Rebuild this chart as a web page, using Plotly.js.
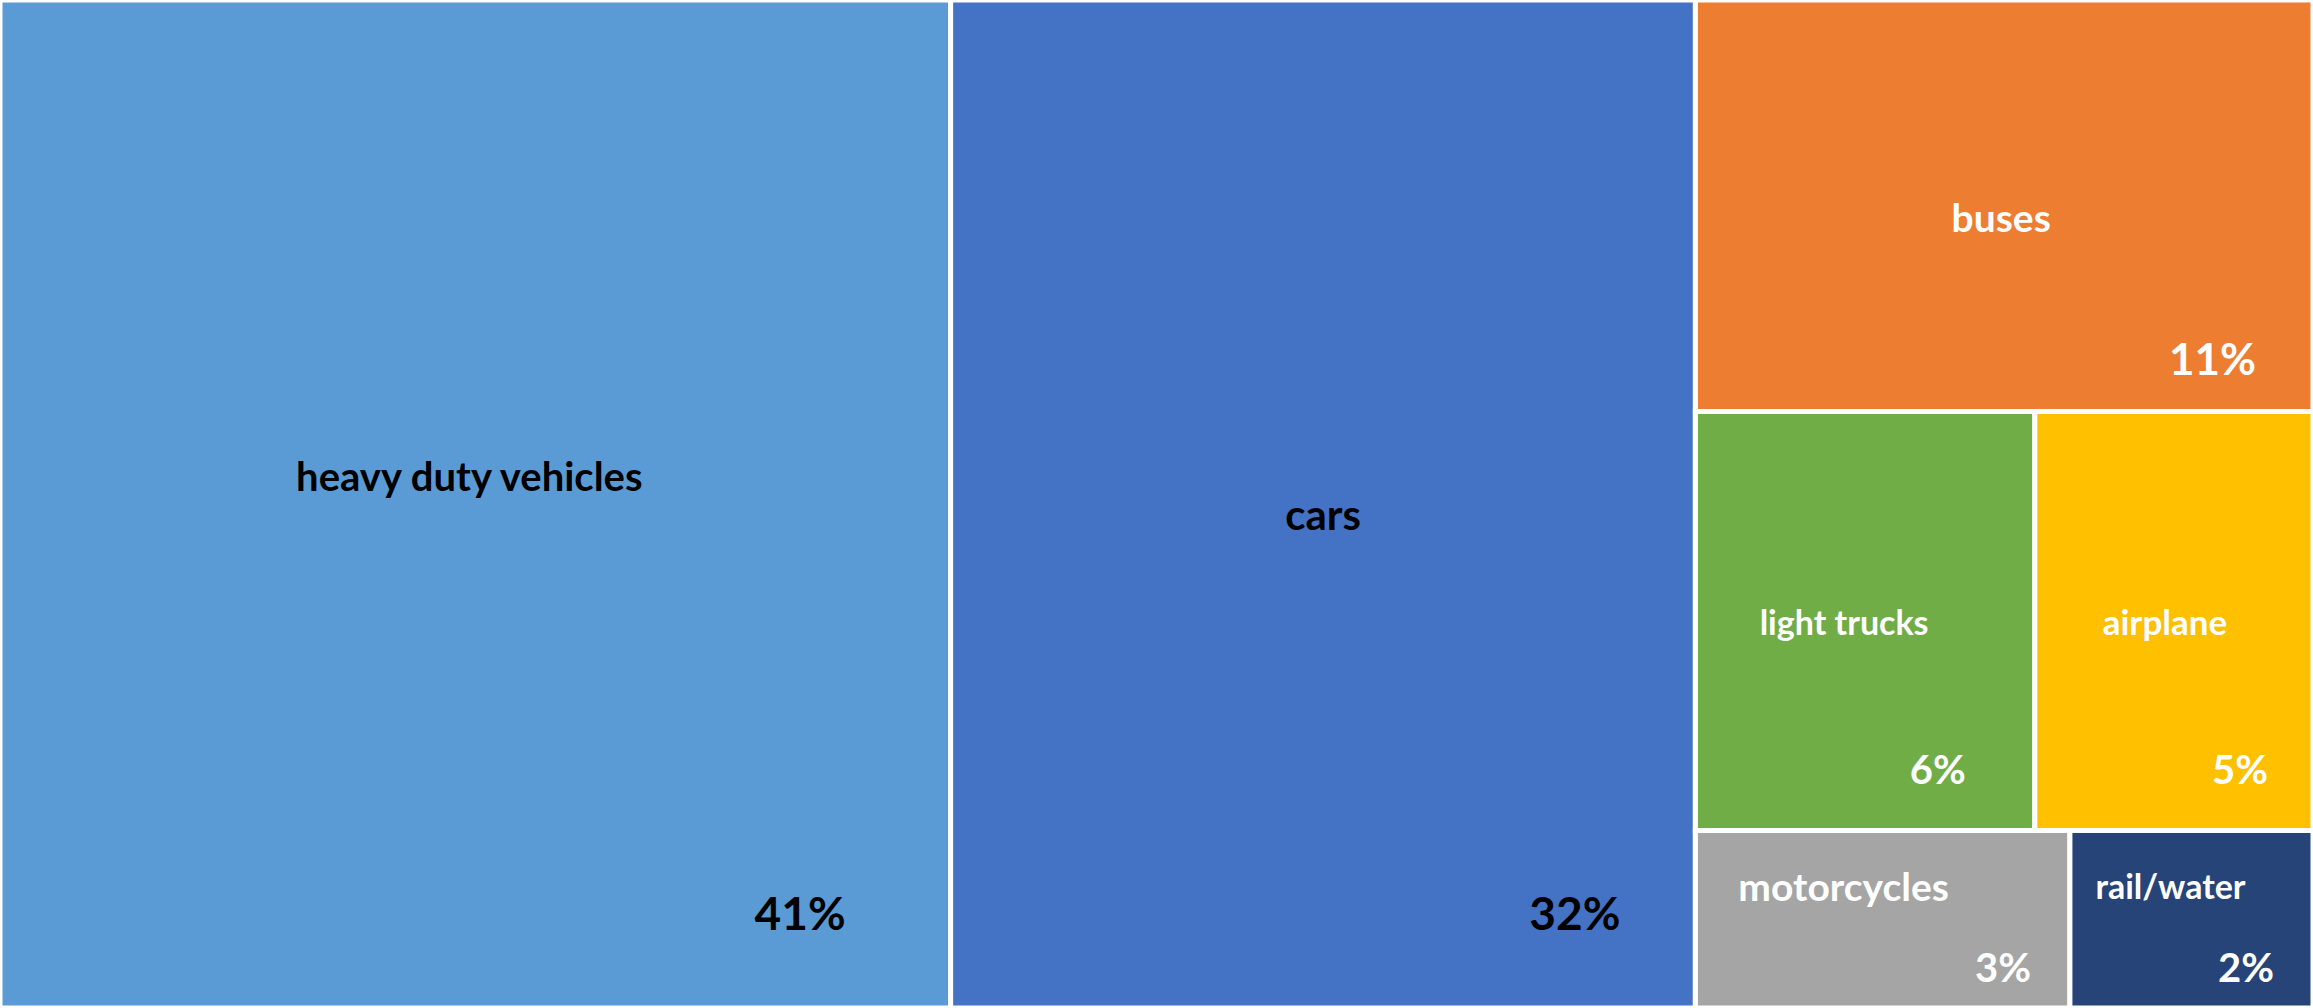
<!DOCTYPE html>
<html><head><meta charset="utf-8">
<script src="https://cdn.plot.ly/plotly-3.0.1.min.js"></script>
<style>html,body{margin:0;padding:0;background:#fff;overflow:hidden;}</style>
</head><body><div id="chart" style="width:2313px;height:1008px;"></div>
<script>
// ---- data ----
const categories = ['heavy duty vehicles', 'cars', 'buses', 'light trucks', 'airplane', 'motorcycles', 'rail/water'];
const shares = [41.1, 32.2, 10.9, 6.1, 5.0, 2.85, 1.85];
const pctLabels = ['41%', '32%', '11%', '6%', '5%', '3%', '2%'];
// grouping used only to reproduce the tile arrangement
const categoryParents = ['', '', 'grpRight', 'grpMid', 'grpMid', 'grpLow', 'grpLow'];
const groupIds = ['grpRight', 'grpMid', 'grpLow'];
const groupParents = ['', 'grpRight', 'grpRight'];

// ---- styles ----
const tileColors = ['#5B9BD5', '#4472C4', '#ED7D31', '#70AD47', '#FFC000', '#A5A5A5', '#264478'];
const textColors = ['#000000', '#000000', '#FFFFFF', '#FFFFFF', '#FFFFFF', '#FFFFFF', '#FFFFFF'];
const labelSizes = [40, 42, 39, 34, 35, 39, 34];
const pctSizes = [46, 46, 44, 40, 40, 40, 40];
const labelLiftPx = [30, -7, -10, 0, 0, 34, 34];   // >0 up, <0 down
const labelLeftPx = [9, 0, 5, 28, 11, 51, 29];
const pctRightPx = [139, 92, 71, 89, 56, 46, 45];
const pctDropPx = [81, 82, 38, 48, 48, 24, 24];
const BASE = 8;               // base font size used for fine spacing
const LINE = BASE * 1.3;      // plotly line spacing
const ASC = 0.99, DESC = 0.21;

function emSpaces(px) { return '\u2003'.repeat(Math.max(0, Math.round(px / BASE))); }
function trailLines(n) { return '<br>\u00a0'.repeat(Math.max(0, n)); }
function leadLines(n) { return '\u00a0<br>'.repeat(Math.max(0, n)); }

const ids = categories.concat(groupIds);
const parents = categoryParents.concat(groupParents);
const values = shares.concat(groupIds.map(() => 0));
const groupBlank = groupIds.map(() => '');

const labelText = categories.map((c, i) => {
  const L = labelLiftPx[i], s = labelSizes[i];
  let pre = '', post = '';
  if (L > 0) post = trailLines(Math.round((2 * L + DESC * (s - BASE)) / LINE));
  if (L < 0) pre = leadLines(Math.round((-2 * L + ASC * (s - BASE)) / LINE));
  return pre + '<span style="font-size:' + s + 'px"><b>' + c + '</b></span>' +
    emSpaces(2 * labelLeftPx[i]) + post;
}).concat(groupBlank);

const pctText = pctLabels.map((p, i) =>
  '<span style="font-size:' + pctSizes[i] + 'px"><b>' + p + '</b></span>' +
  emSpaces(pctRightPx[i]) + trailLines(Math.round((pctDropPx[i] - 6) / LINE))
).concat(groupBlank);

const fontColors = textColors.concat(groupIds.map(() => '#FFFFFF'));

const common = {
  type: 'treemap',
  ids: ids,
  labels: ids,
  parents: parents,
  values: values,
  branchvalues: 'remainder',
  sort: false,
  textinfo: 'text',
  hoverinfo: 'none',
  tiling: {packing: 'slice-dice', pad: 0},
  pathbar: {visible: false},
  domain: {x: [0, 1], y: [0, 1]}
};

const tiles = Object.assign({}, common, {
  text: labelText,
  textposition: 'middle center',
  textfont: {family: 'Lato, "Open Sans", sans-serif', size: BASE, color: fontColors},
  marker: {
    colors: tileColors.concat(groupIds.map(() => '#FFFFFF')),
    line: {color: '#FFFFFF', width: 5},
    pad: {t: 0, l: 0, r: 0, b: 0},
    depthfade: false
  }
});

const pcts = Object.assign({}, common, {
  text: pctText,
  textposition: 'bottom right',
  textfont: {family: 'Lato, "Open Sans", sans-serif', size: BASE, color: fontColors},
  marker: {
    colors: ids.map(() => 'rgba(0,0,0,0)'),
    line: {color: 'rgba(0,0,0,0)', width: 0},
    pad: {t: 0, l: 0, r: 0, b: 0},
    depthfade: false
  }
});

Plotly.newPlot('chart', [tiles, pcts], {
  width: 2313,
  height: 1008,
  margin: {l: 0, r: 0, t: 0, b: 0, pad: 0},
  paper_bgcolor: '#FFFFFF',
  showlegend: false
}, {displayModeBar: false, staticPlot: true});
</script>
</body></html>
